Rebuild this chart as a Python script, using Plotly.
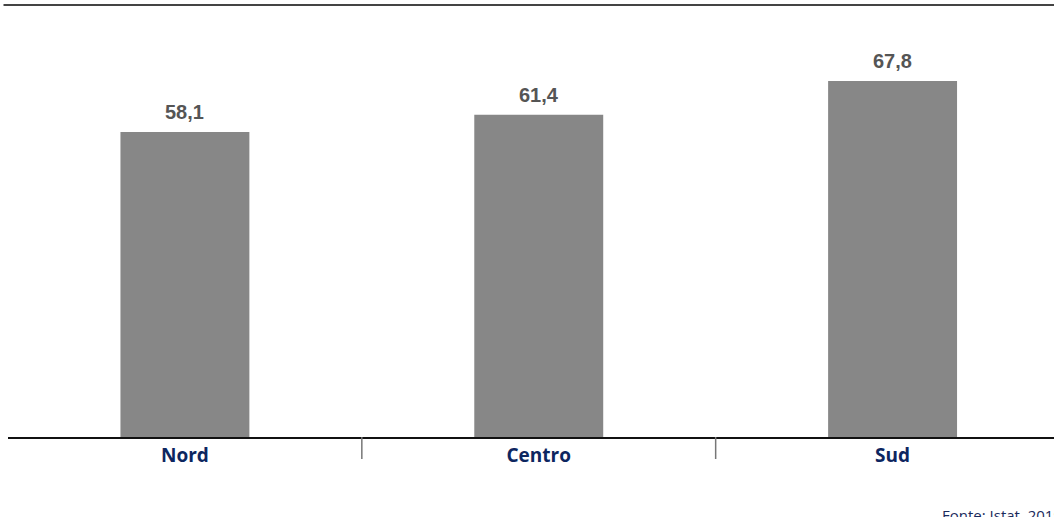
import plotly.graph_objects as go

categories = ["Nord", "Centro", "Sud"]
values = [58.1, 61.4, 67.8]
source_text = "Fonte: Istat, 2019"

W, H = 1054, 517
ML, MR, MT, MB = 7.5, 0, 5, 80
plot_h = H - MT - MB
plot_w = W - ML - MR

fig = go.Figure()
fig.add_trace(go.Bar(
    x=categories, y=values,
    marker=dict(color="#878787", line=dict(width=0)),
    width=129 / 354,
    hoverinfo="skip",
))

for c, v in zip(categories, values):
    fig.add_annotation(
        x=c, y=v, xref="x", yref="y",
        text="<b>" + f"{v:.1f}".replace(".", ",") + "</b>",
        showarrow=False, yanchor="bottom", yshift=7,
        font=dict(family="Liberation Sans, Arial, sans-serif", size=20, color="#555555"),
    )

# category separators
for sep in [0.5, 1.5]:
    fig.add_shape(type="line", xref="x", yref="paper", x0=sep, x1=sep,
                  y0=0, y1=-22 / plot_h, line=dict(color="#777777", width=1.5))

# top rule
fig.add_shape(type="line", xref="paper", yref="paper", x0=-4.5 / plot_w, x1=1,
              y0=1, y1=1, line=dict(color="#444444", width=2))

fig.add_annotation(
    xref="paper", yref="paper", x=(940 - ML) / plot_w, y=(MT + plot_h - 503) / plot_h,
    xanchor="left", yanchor="top", text=source_text, showarrow=False,
    font=dict(family="Open Sans, sans-serif", size=15, color="#1a2a5c"),
)

fig.update_layout(
    width=W, height=H,
    margin=dict(l=ML, r=MR, t=MT, b=MB),
    plot_bgcolor="white", paper_bgcolor="white",
    showlegend=False,
    xaxis=dict(
        range=[-0.5, -0.5 + plot_w / 354],
        showgrid=False, zeroline=False,
        showline=True, linecolor="#111111", linewidth=1.5,
        ticks="", ticklabelstandoff=0,
        tickfont=dict(family="Open Sans", size=19, color="#0d2660", weight=700),
    ),
    yaxis=dict(range=[0, plot_h / 5.25], visible=False, showgrid=False, zeroline=False),
)

fig.write_html("out.html", config={"displayModeBar": False},
               post_script="document.body.style.margin='0';")
